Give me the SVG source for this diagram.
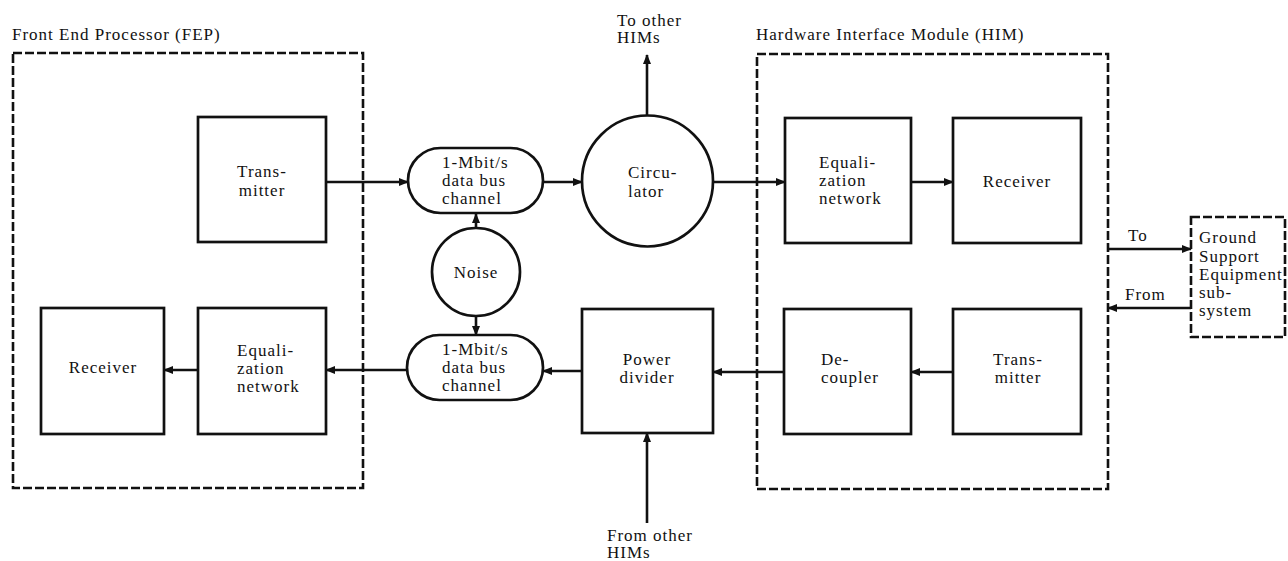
<svg xmlns="http://www.w3.org/2000/svg" width="1288" height="561" viewBox="0 0 1288 561">
<style>
text{font-family:"Liberation Serif","Times New Roman","DejaVu Serif",serif;font-size:17px;letter-spacing:1px;fill:#111}
.box{fill:#fff;stroke:#111;stroke-width:2.7}
.dash{fill:none;stroke:#111;stroke-width:2.6;stroke-dasharray:9 3}
.ln{fill:none;stroke:#111;stroke-width:2.6}
.c{text-anchor:middle}
</style>
<defs>
<marker id="ah" markerUnits="userSpaceOnUse" markerWidth="10" markerHeight="9" refX="9" refY="4" orient="auto">
<path d="M0,0 L10,4 L0,8 z" fill="#111"/>
</marker>
</defs>
<rect width="1288" height="561" fill="#fff"/>

<g id="fep">
<rect class="dash" x="13" y="53" width="350" height="435"/>
<text x="12" y="40">Front End Processor (FEP)</text>
</g>
<g id="him">
<rect class="dash" x="757" y="54" width="351" height="435"/>
<text x="756" y="40">Hardware Interface Module (HIM)</text>
</g>

<g id="connectors">
<line class="ln" x1="326" y1="182" x2="408" y2="182" marker-end="url(#ah)"/>
<line class="ln" x1="543" y1="182" x2="582" y2="182" marker-end="url(#ah)"/>
<line class="ln" x1="713" y1="182" x2="785" y2="182" marker-end="url(#ah)"/>
<line class="ln" x1="911" y1="182" x2="953" y2="182" marker-end="url(#ah)"/>
<line class="ln" x1="647" y1="115" x2="647" y2="55" marker-end="url(#ah)"/>
<line class="ln" x1="476" y1="228" x2="476" y2="214" marker-end="url(#ah)"/>
<line class="ln" x1="476" y1="317" x2="476" y2="335" marker-end="url(#ah)"/>
<line class="ln" x1="582" y1="371" x2="543" y2="371" marker-end="url(#ah)"/>
<line class="ln" x1="407" y1="370" x2="326" y2="370" marker-end="url(#ah)"/>
<line class="ln" x1="198" y1="370" x2="164" y2="370" marker-end="url(#ah)"/>
<line class="ln" x1="784" y1="372" x2="713" y2="372" marker-end="url(#ah)"/>
<line class="ln" x1="953" y1="372" x2="911" y2="372" marker-end="url(#ah)"/>
<line class="ln" x1="647" y1="523" x2="647" y2="433" marker-end="url(#ah)"/>
<line class="ln" x1="1108" y1="249" x2="1191" y2="249" marker-end="url(#ah)"/>
<line class="ln" x1="1191" y1="308" x2="1108" y2="308" marker-end="url(#ah)"/>
<text x="617" y="26">To other</text>
<text x="617" y="43">HIMs</text>
<text x="607" y="541">From other</text>
<text x="607" y="558">HIMs</text>
<text x="1128" y="241">To</text>
<text x="1125" y="300">From</text>
</g>

<g id="fep-transmitter">
<rect class="box" x="198" y="117" width="128" height="125"/>
<text class="c" x="262" y="177">Trans-</text>
<text class="c" x="262" y="196">mitter</text>
</g>
<g id="fep-receiver">
<rect class="box" x="41" y="308" width="123" height="126"/>
<text class="c" x="103" y="373">Receiver</text>
</g>
<g id="fep-equalization">
<rect class="box" x="198" y="308" width="128" height="126"/>
<text x="237" y="356">Equali-</text>
<text x="237" y="374">zation</text>
<text x="237" y="392">network</text>
</g>
<g id="bus-top">
<rect class="box" x="408" y="148" width="135" height="65" rx="32.5"/>
<text x="442" y="168">1-Mbit/s</text>
<text x="442" y="186">data bus</text>
<text x="442" y="204">channel</text>
</g>
<g id="noise">
<circle class="box" cx="476" cy="272" r="44"/>
<text class="c" x="476" y="278">Noise</text>
</g>
<g id="bus-bottom">
<rect class="box" x="407" y="335" width="136" height="65" rx="32.5"/>
<text x="442" y="355">1-Mbit/s</text>
<text x="442" y="373">data bus</text>
<text x="442" y="391">channel</text>
</g>
<g id="circulator">
<circle class="box" cx="647.5" cy="181" r="65.5"/>
<text x="628" y="178">Circu-</text>
<text x="628" y="197">lator</text>
</g>
<g id="power-divider">
<rect class="box" x="582" y="309" width="131" height="124"/>
<text class="c" x="647" y="365">Power</text>
<text class="c" x="647" y="383">divider</text>
</g>
<g id="him-equalization">
<rect class="box" x="785" y="118" width="126" height="125"/>
<text x="819" y="168">Equali-</text>
<text x="819" y="186">zation</text>
<text x="819" y="204">network</text>
</g>
<g id="him-receiver">
<rect class="box" x="953" y="118" width="128" height="125"/>
<text class="c" x="1017" y="187">Receiver</text>
</g>
<g id="him-decoupler">
<rect class="box" x="784" y="309" width="127" height="125"/>
<text x="821" y="365">De-</text>
<text x="821" y="383">coupler</text>
</g>
<g id="him-transmitter">
<rect class="box" x="953" y="309" width="128" height="125"/>
<text class="c" x="1018" y="365">Trans-</text>
<text class="c" x="1018" y="383">mitter</text>
</g>
<g id="gse">
<rect class="dash" x="1191" y="217" width="94" height="120"/>
<text x="1199" y="243">Ground</text>
<text x="1199" y="262">Support</text>
<text x="1199" y="280">Equipment</text>
<text x="1199" y="298">sub-</text>
<text x="1199" y="316">system</text>
</g>
</svg>
